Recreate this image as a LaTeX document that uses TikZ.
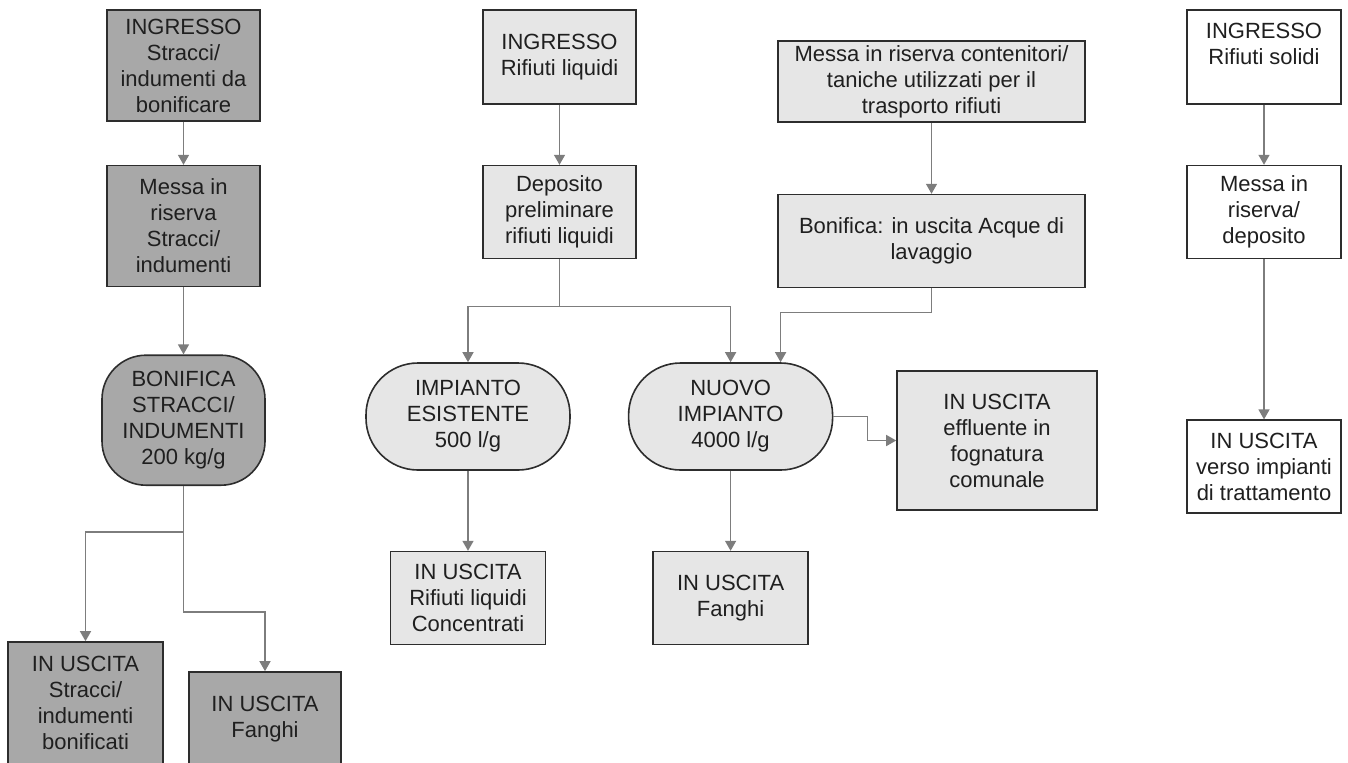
\documentclass[tikz,border=0pt]{standalone}
\usepackage{fontspec}
\setmainfont{Liberation Sans}
\usetikzlibrary{arrows.meta, positioning}
\definecolor{darkfill}{RGB}{168,168,168}
\definecolor{lightfill}{RGB}{230,230,230}
\definecolor{edgegray}{RGB}{125,125,125}
\definecolor{bordergray}{RGB}{45,45,45}

\begin{document}
\begin{tikzpicture}[
        x=0.5pt, y=-0.5pt,
        >={Triangle[length=5pt, width=5.5pt]},
        every node/.style={font=\fontsize{11}{13}\selectfont, text=black!88},
        flowbox/.style={draw=bordergray, line width=0.8pt, align=center, inner sep=2pt, minimum width=76.5pt, minimum height=46.5pt},
        darkbox/.style={flowbox, fill=darkfill},
        lightbox/.style={flowbox, fill=lightfill},
        whitebox/.style={flowbox, fill=white},
        darkplant/.style={darkbox, rounded corners=22pt, minimum width=81.5pt, minimum height=65pt},
        lightplant/.style={lightbox, rounded corners=26pt, minimum width=102pt, minimum height=53.5pt},
        arr/.style={->, draw=edgegray, line width=0.7pt},
    ]
    \useasboundingbox (0,0) rectangle (1348,762);

    %% ===== Stracci / indumenti =====
    \node[darkbox, minimum height=55.5pt] (in_stracci) at (183.5,65.5) {INGRESSO\\Stracci/\\indumenti da\\bonificare};
    \node[darkbox, below=21.5pt of in_stracci, minimum height=60.5pt] (ris_stracci) {Messa in\\riserva\\Stracci/\\indumenti};
    \node[darkplant, below=33.5pt of ris_stracci] (bon_stracci) {BONIFICA\\STRACCI/\\INDUMENTI\\200 kg/g};
    \node[darkbox, minimum width=77.5pt, minimum height=61pt] (out_stracci) at (85.5,703) {IN USCITA\\Stracci/\\indumenti\\bonificati};
    \node[darkbox, minimum width=76pt, minimum height=47pt] (out_fanghi_l) at (265,719) {IN USCITA\\Fanghi};

    \draw[arr] (in_stracci) -- (ris_stracci);
    \draw[arr] (ris_stracci) -- (bon_stracci);
    \draw[arr] (bon_stracci.south) -- ++(0,-23pt) -| (out_stracci.north);
    \draw[arr] (bon_stracci.south) -- ++(0,-63pt) -| (out_fanghi_l.north);

    %% ===== Rifiuti liquidi =====
    \node[lightbox, minimum height=47pt] (in_liquidi) at (559.5,57) {INGRESSO\\Rifiuti liquidi};
    \node[lightbox, below=30pt of in_liquidi] (dep_liquidi) {Deposito\\preliminare\\rifiuti liquidi};
    \node[lightplant] (imp_esist) at (468,416.5) {IMPIANTO\\ESISTENTE\\500 l/g};
    \node[lightplant, right=28.5pt of imp_esist] (imp_nuovo) {NUOVO\\IMPIANTO\\4000 l/g};
    \node[lightbox, below=40pt of imp_esist, minimum width=77.5pt] (out_conc) {IN USCITA\\Rifiuti liquidi\\Concentrati};
    \node[lightbox, below=40pt of imp_nuovo, minimum width=77.5pt] (out_fanghi_m) {IN USCITA\\Fanghi};

    %% contenitori / taniche
    \node[lightbox, minimum width=153.5pt, minimum height=40.5pt] (cont_taniche) at (931.5,81.5) {Messa in riserva contenitori/\\taniche utilizzati per il\\trasporto rifiuti};
    \node[lightbox, below=35.5pt of cont_taniche, minimum width=153.5pt] (bon_acque) {Bonifica: in uscita Acque di\\lavaggio};
    \node[lightbox, minimum width=100pt, minimum height=69.5pt] (effluente) at (997,440.5) {IN USCITA\\effluente in\\fognatura\\comunale};

    \draw[arr] (in_liquidi) -- (dep_liquidi);
    \draw[arr] (dep_liquidi.south) -- ++(0,-23.5pt) -| (imp_esist.north);
    \draw[arr] (dep_liquidi.south) -- ++(0,-23.5pt) -| (imp_nuovo.north);
    \draw[arr] (cont_taniche) -- (bon_acque);
    \draw[arr] (bon_acque.south) -- ++(0,-12pt) -| ([xshift=25pt]imp_nuovo.north);
    \draw[arr] (imp_esist) -- (out_conc);
    \draw[arr] (imp_nuovo) -- (out_fanghi_m);
    \draw[arr] (imp_nuovo.east) -- ++(17pt,0) |- (effluente.west);

    %% ===== Rifiuti solidi =====
    \node[whitebox, minimum width=77pt, minimum height=47pt] (in_solidi) at (1264,57) {INGRESSO\\Rifiuti solidi\\~};
    \node[whitebox, below=30pt of in_solidi, minimum width=77pt] (ris_solidi) {Messa in\\riserva/\\deposito};
    \node[whitebox, below=80pt of ris_solidi, minimum width=77pt] (out_solidi) {IN USCITA\\verso impianti\\di trattamento};

    \draw[arr] (in_solidi) -- (ris_solidi);
    \draw[arr] (ris_solidi) -- (out_solidi);

\end{tikzpicture}
\end{document}
